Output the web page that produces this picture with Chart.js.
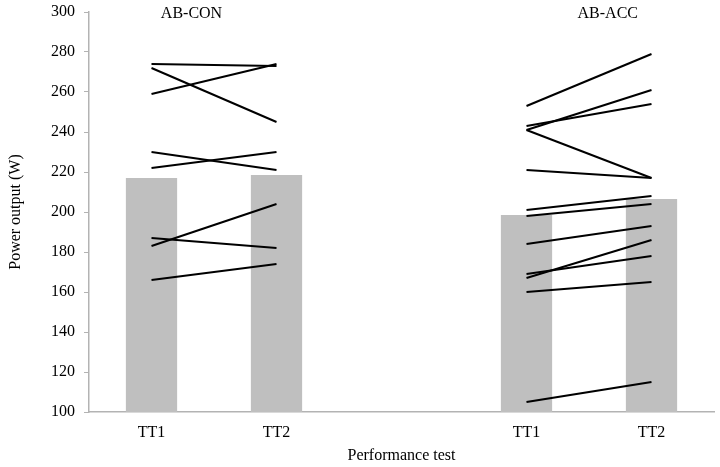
<!DOCTYPE html>
<html lang="en">

<head>
    <meta charset="UTF-8">
    <title>Power output</title>
    <style>
        body {
            margin: 0;
            background: #ffffff;
        }

        #wrap {
            width: 720px;
            height: 467px;
        }
    </style>
    <script src="https://cdn.jsdelivr.net/npm/chart.js"></script>
</head>

<body>
    <div id="wrap">
        <canvas id="chart" width="720" height="467"></canvas>
    </div>

    <script>
        // categories on the x axis (the empty one is the gap between groups)
        const categories = ['TT1', 'TT2', '', 'TT1', 'TT2'];
        const groupLabels = ['AB-CON', 'AB-ACC'];
        const yTicks = [100, 120, 140, 160, 180, 200, 220, 240, 260, 280, 300];

        // group means (grey bars)
        const barMeans = [217, 218.5, null, 198.5, 206.5];

        // individual subjects, TT1 -> TT2
        const conTT1 = [274, 272, 259, 230, 222, 187, 183, 166];
        const conTT2 = [273, 245, 274, 221, 230, 182, 204, 174];
        const accTT1 = [253, 243, 241, 241, 221, 201, 198, 184, 169, 167, 160, 105];
        const accTT2 = [279, 254, 261, 217, 217, 208, 204, 193, 178, 186, 165, 115];

        const serif = 'Liberation Serif, Times New Roman, serif';
        const axisGray = '#b3b3b3';

        function subjectLine(a, b, startIdx) {
            const d = categories.map(() => null);
            d[startIdx] = a;
            d[startIdx + 1] = b;
            return {
                type: 'line',
                data: d,
                borderColor: '#000000',
                borderWidth: 2,
                pointRadius: 0,
                fill: false,
                order: 1
            };
        }

        const datasets = [{
            type: 'bar',
            data: barMeans,
            backgroundColor: '#bfbfbf',
            borderWidth: 0,
            barPercentage: 0.41,
            categoryPercentage: 1,
            order: 2
        }];
        for (let i = 0; i < conTT1.length; i++) datasets.push(subjectLine(conTT1[i], conTT2[i], 0));
        for (let i = 0; i < accTT1.length; i++) datasets.push(subjectLine(accTT1[i], accTT2[i], 3));

        // group names above the pairs
        const groupPlugin = {
            id: 'groupNames',
            afterDraw(chart) {
                const x = chart.scales.x;
                const ctx = chart.ctx;
                const spots = [0.32, 3.65];
                ctx.save();
                ctx.font = '16px ' + serif;
                ctx.fillStyle = '#000000';
                ctx.textAlign = 'center';
                ctx.textBaseline = 'middle';
                groupLabels.forEach((t, i) => {
                    ctx.fillText(t, x.getPixelForValue(spots[i]), chart.chartArea.top + 2);
                });
                ctx.restore();
            }
        };

        new Chart(document.getElementById('chart').getContext('2d'), {
            type: 'bar',
            data: { labels: categories, datasets: datasets },
            plugins: [groupPlugin],
            options: {
                responsive: false,
                animation: false,
                events: [],
                layout: { padding: { top: 12, right: 6, left: 0, bottom: 0 } },
                plugins: {
                    legend: { display: false },
                    tooltip: { enabled: false }
                },
                scales: {
                    x: {
                        offset: true,
                        grid: { display: false, drawTicks: false },
                        border: { display: true, color: axisGray, width: 1.5 },
                        ticks: {
                            color: '#000000',
                            font: { family: serif, size: 16 },
                            padding: 11,
                            maxRotation: 0
                        },
                        title: {
                            display: true,
                            text: 'Performance test',
                            color: '#000000',
                            font: { family: serif, size: 16 },
                            padding: { top: 0, bottom: 2 }
                        },
                        afterFit(scale) { scale.height = 55; }
                    },
                    y: {
                        min: 100,
                        max: 300,
                        afterBuildTicks(scale) {
                            scale.ticks = yTicks.map(v => ({ value: v }));
                        },
                        grid: {
                            drawOnChartArea: false,
                            drawTicks: true,
                            tickLength: 5,
                            color: axisGray
                        },
                        border: { display: true, color: axisGray, width: 1.5 },
                        ticks: {
                            color: '#000000',
                            font: { family: serif, size: 16 },
                            padding: 9
                        },
                        title: {
                            display: true,
                            text: 'Power output (W)',
                            color: '#000000',
                            font: { family: serif, size: 16 },
                            padding: { top: 6, bottom: 0 }
                        },
                        afterFit(scale) {
                            scale.width = 89;
                            // let the layout padding decide the top edge
                            scale.paddingTop = 0;
                            scale.paddingBottom = 0;
                        }
                    }
                }
            }
        });
    </script>
</body>

</html>
